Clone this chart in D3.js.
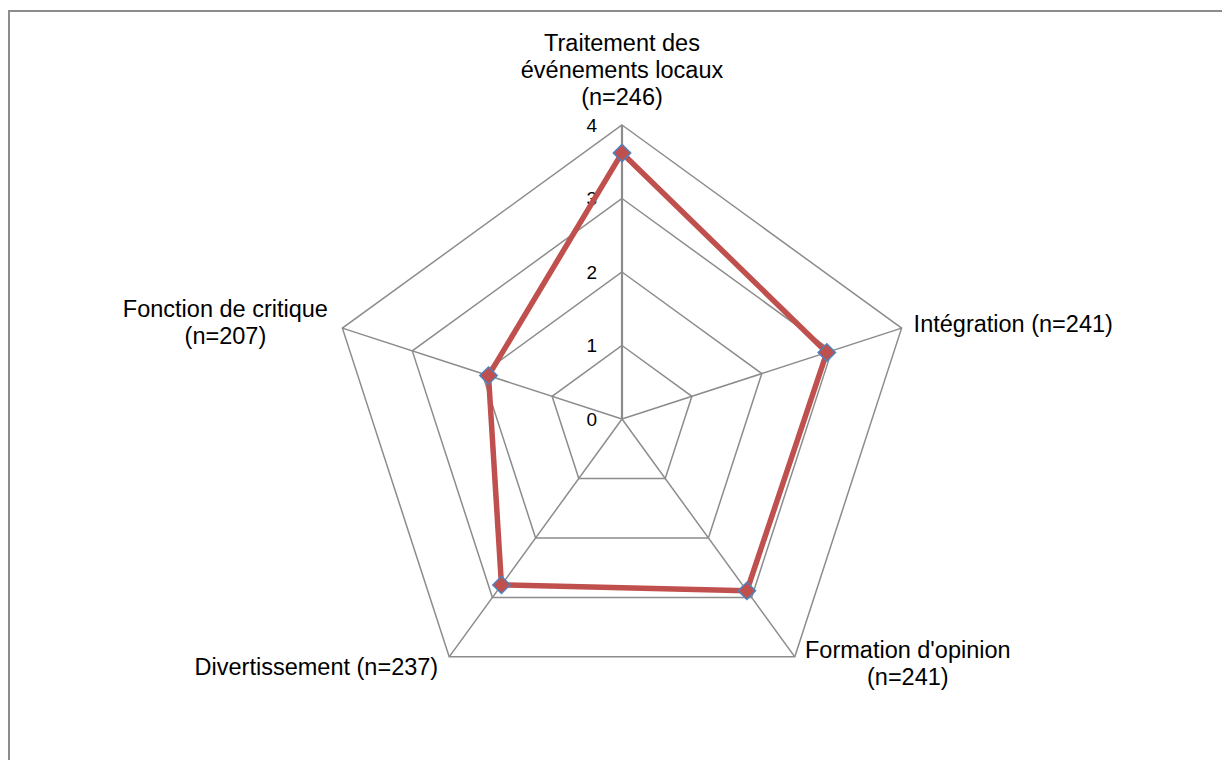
<!DOCTYPE html>
<html lang="fr">
<head>
  <meta charset="UTF-8">
  <title>Radar</title>
  <style>
    body { margin: 0; background: #fff; }
    svg { display: block; font-family: "Liberation Sans", Arial, sans-serif; }
  </style>
</head>
<body>
  <svg id="chart" width="1222" height="760"></svg>
  <script src="https://d3js.org/d3.v7.min.js"></script>
  <script>
    // data
    var categories = [
      ['Traitement des', 'événements locaux', '(n=246)'],
      ['Intégration (n=241)'],
      ['Formation d\'opinion', '(n=241)'],
      ['Divertissement (n=237)'],
      ['Fonction de critique', '(n=207)']
    ]
    var values = [3.62, 2.93, 2.89, 2.79, 1.91]
    var ticks = [0, 1, 2, 3, 4]

    var cx = 622, cy = 419, R = 294
    var svg = d3.select('#chart')

    // outer frame
    svg.append('rect')
      .attr('x', 9).attr('y', 11)
      .attr('width', 1240).attr('height', 800)
      .attr('fill', 'none')
      .attr('stroke', '#8c8c8c')
      .attr('stroke-width', 2)

    var r = d3.scaleLinear().domain([0, 4]).range([0, R])
    var angle = d3.scalePoint()
      .domain(d3.range(categories.length))
      .range([0, 2 * Math.PI * (categories.length - 1) / categories.length])

    var g = svg.append('g').attr('transform', 'translate(' + cx + ',' + cy + ')')

    function pt (i, v) {
      var a = angle(i)
      return [r(v) * Math.sin(a), -r(v) * Math.cos(a)]
    }

    // grid rings
    var ring = d3.lineRadial()
      .angle(function (d) { return angle(d[0]) })
      .radius(function (d) { return r(d[1]) })
      .curve(d3.curveLinearClosed)

    g.selectAll('path.ring')
      .data(ticks.slice(1))
      .enter()
      .append('path')
      .attr('class', 'ring')
      .attr('d', function (t) {
        return ring(categories.map(function (c, i) { return [i, t] }))
      })
      .attr('fill', 'none')
      .attr('stroke', '#8c8c8c')
      .attr('stroke-width', 1.5)

    // spokes
    g.selectAll('line.spoke')
      .data(categories)
      .enter()
      .append('line')
      .attr('class', 'spoke')
      .attr('x1', 0).attr('y1', 0)
      .attr('x2', function (d, i) { return pt(i, 4)[0] })
      .attr('y2', function (d, i) { return pt(i, 4)[1] })
      .attr('stroke', '#8c8c8c')
      .attr('stroke-width', function (d, i) { return i === 0 ? 2.2 : 1.5 })

    // tick labels
    g.selectAll('text.tick')
      .data(ticks)
      .enter()
      .append('text')
      .attr('class', 'tick')
      .attr('x', -25)
      .attr('y', function (t) { return -r(t) })
      .attr('dy', '0.35em')
      .attr('text-anchor', 'end')
      .attr('font-size', 19)
      .attr('fill', '#000')
      .text(function (t) { return t })

    // category labels (offsets from each outer vertex)
    var labelPos = [
      { x: 0, y: -82, anchor: 'middle' },
      { x: 12, y: -4, anchor: 'start' },
      { x: 113, y: -7, anchor: 'middle' },
      { x: -11, y: 10, anchor: 'end' },
      { x: -117, y: -19, anchor: 'middle' }
    ]
    var lineH = 26.7
    var labels = g.selectAll('text.cat')
      .data(categories)
      .enter()
      .append('text')
      .attr('class', 'cat')
      .attr('font-size', 23.5)
      .attr('fill', '#000')
      .attr('text-anchor', function (d, i) { return labelPos[i].anchor })
      .attr('transform', function (d, i) {
        var p = pt(i, 4)
        var lp = labelPos[i]
        return 'translate(' + (p[0] + lp.x) + ',' + (p[1] + lp.y) + ')'
      })
    labels.each(function (d, i) {
      var t = d3.select(this)
      d.forEach(function (line, j) {
        t.append('tspan')
          .attr('x', 0)
          .attr('y', j * lineH)
          .attr('dy', '0.35em')
          .text(line)
      })
    })

    // series
    var series = d3.lineRadial()
      .angle(function (d, i) { return angle(i) })
      .radius(function (d) { return r(d) })
      .curve(d3.curveLinearClosed)

    g.append('path')
      .attr('d', series(values))
      .attr('fill', 'none')
      .attr('stroke', '#c0504d')
      .attr('stroke-width', 5.5)
      .attr('stroke-linejoin', 'round')

    g.selectAll('path.marker')
      .data(values)
      .enter()
      .append('path')
      .attr('class', 'marker')
      .attr('d', d3.symbol().type(d3.symbolSquare).size(150))
      .attr('transform', function (d, i) {
        var p = pt(i, d)
        return 'translate(' + p[0] + ',' + p[1] + ') rotate(45)'
      })
      .attr('fill', '#c0504d')
      .attr('stroke', '#4f81bd')
      .attr('stroke-width', 1.5)
  </script>
</body>
</html>
